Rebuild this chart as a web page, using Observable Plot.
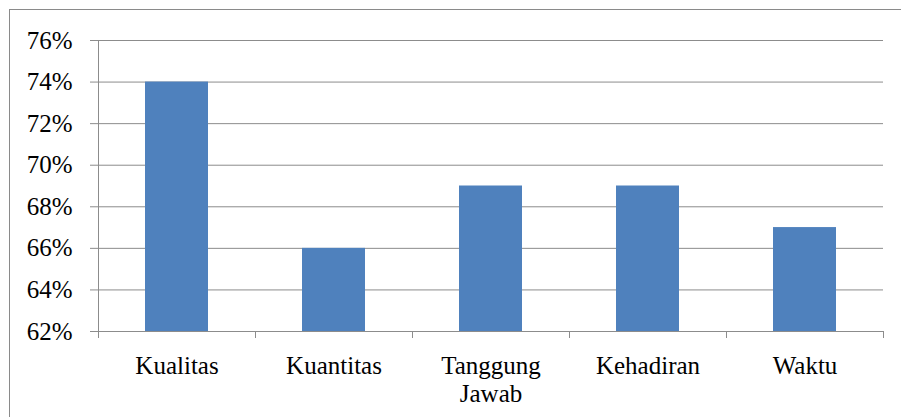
<!DOCTYPE html>
<html>
<head>
<meta charset="utf-8">
<script src="https://cdn.jsdelivr.net/npm/d3@7"></script>
<script src="https://cdn.jsdelivr.net/npm/@observablehq/plot@0.6"></script>
<style>
  html, body { margin: 0; padding: 0; background: #fff; font-family: "Liberation Serif", serif; }
  #wrap { position: relative; width: 901px; height: 417px; overflow: hidden; }
  #frame { position: absolute; left: 9px; top: 9px; width: 1000px; height: 1000px; border: 1px solid #8a8a8a; box-sizing: border-box; }
  #chart { position: absolute; left: 0; top: 0; }
  #chart svg text, #chart svg tspan { font-family: "Liberation Serif", serif !important; }
</style>
</head>
<body>
<div id="wrap"><div id="frame"></div><div id="chart"></div></div>
<script>
const categories = ["Kualitas", "Kuantitas", "Tanggung\nJawab", "Kehadiran", "Waktu"];
const values = [0.74, 0.66, 0.69, 0.69, 0.67];
const yTicks = [0.62, 0.64, 0.66, 0.68, 0.70, 0.72, 0.74, 0.76];
const baseline = 0.62;

const data = categories.map((c, i) => ({category: c, value: values[i]}));

const W = 901, H = 417, mL = 98, mR = 18;
const step = (W - mL - mR) / categories.length;
const gray = "#8c8c8c";
const serif = "Liberation Serif";

const plot = Plot.plot({
  width: W,
  height: H,
  marginLeft: mL,
  marginRight: mR,
  marginTop: 40,
  marginBottom: 86,
  style: {fontFamily: serif, fontSize: "25px", color: "#000", background: "transparent"},
  x: {domain: categories, paddingInner: 0.6, paddingOuter: 0.3, label: null},
  y: {domain: [yTicks[0], yTicks[yTicks.length - 1]], label: null},
  marks: [
    Plot.gridY(yTicks, {stroke: gray, strokeOpacity: 1, strokeWidth: 1}),
    Plot.barY(data, {x: "category", y1: baseline, y2: "value", fill: "#4F81BD"}),
    Plot.frame({anchor: "left", stroke: gray, strokeOpacity: 1}),
    Plot.axisY(yTicks, {tickSize: 8, tickPadding: 18, stroke: gray, strokeOpacity: 1, tickFormat: d3.format(".0%"), fill: "#000", fontFamily: serif, fontSize: 25, label: null}),
    Plot.axisX(categories, {tickSize: 7, text: null, dx: -step / 2, stroke: gray, strokeOpacity: 1, label: null}),
    Plot.axisX([categories[categories.length - 1]], {tickSize: 7, text: null, dx: step / 2, stroke: gray, strokeOpacity: 1, label: null}),
    Plot.axisX(categories, {tickSize: 0, tickPadding: 23, fill: "#000", lineHeight: 1.12, fontFamily: serif, fontSize: 25, label: null})
  ]
});
d3.select(plot).attr("font-family", serif).attr("font-size", 25);
d3.select(plot).selectAll("g").attr("font-family", serif);
d3.select(plot).selectAll("text, tspan").attr("font-family", serif).style("font-family", "'Liberation Serif', serif");
const chart = document.getElementById("chart");
chart.appendChild(plot);
const wrap = document.getElementById("wrap");
plot.querySelectorAll("text").forEach(t => { getComputedStyle(t).fontFamily; t.getBBox(); });
wrap.style.height = "300px";
wrap.getBoundingClientRect();
wrap.style.height = "417px";
wrap.getBoundingClientRect();
if (document.fonts && document.fonts.ready) {
  document.fonts.ready.then(() => {
    wrap.style.height = "416px";
    wrap.getBoundingClientRect();
    wrap.style.height = "417px";
  });
}
</script>
</body>
</html>
